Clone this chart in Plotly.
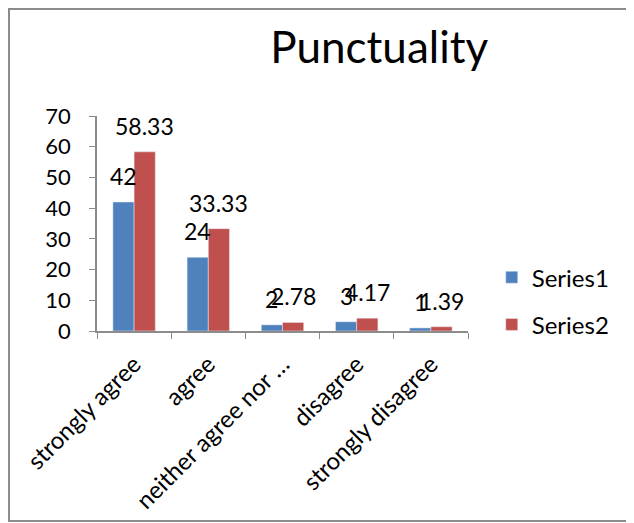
import plotly.graph_objects as go

categories = ["strongly agree", "agree", "neither agree nor …", "disagree", "strongly disagree"]
series1 = [42, 24, 2, 3, 1]
series2 = [58.33, 33.33, 2.78, 4.17, 1.39]
series1_labels = ["42", "24", "2", "3", "1"]
series2_labels = ["58.33", "33.33", "2.78", "4.17", "1.39"]

# page body adds an 8px margin, so the figure is a little smaller than the window
W, H = 626, 515
L, R, T, B = 89, 166, 108, 192
FONT = "Lato, 'Open Sans', sans-serif"
BLUE = "#4F81BD"
RED = "#C0504D"
GREY = "#8c8c8c"

fig = go.Figure()
fig.add_trace(go.Bar(name="Series1", x=categories, y=series1, marker_color=BLUE,
                     legendgroup="s1"))
fig.add_trace(go.Bar(name="Series2", x=categories, y=series2, marker_color=RED,
                     legendgroup="s2"))

# data labels sit a bit above each bar, centred on it (Excel style)
plot_w = W - L - R
plot_h = H - T - B
bar_w = plot_w / len(categories) * (1 - 0.4286) / 2
for vals, labels, shift in [(series1, series1_labels, -bar_w / 2),
                            (series2, series2_labels, bar_w / 2)]:
    for c, v, t in zip(categories, vals, labels):
        fig.add_annotation(x=c, y=v, text=t, showarrow=False, xshift=shift,
                           yshift=10, yanchor="bottom",
                           font=dict(family=FONT, size=23, color="black"))

# chart border (right edge falls outside the picture)
fig.add_shape(type="rect", xref="paper", yref="paper",
              x0=(1 - L) / plot_w, x1=(W + 10 - L) / plot_w,
              y0=-(B - 2) / plot_h, y1=1 + (T - 1) / plot_h,
              line=dict(color=GREY, width=2))

fig.update_layout(
    width=W, height=H,
    margin=dict(l=L, r=R, t=T, b=B, autoexpand=False),
    paper_bgcolor="white", plot_bgcolor="white",
    barmode="group", bargap=0.4286, bargroupgap=0,
    font=dict(family=FONT, size=20, color="black"),
    title=dict(text="Punctuality", x=0.593, xref="container", xanchor="center",
               y=0.924, yref="container", yanchor="middle",
               font=dict(family=FONT, size=44, color="black")),
    legend=dict(x=1.064, xanchor="left", y=0.353, yanchor="top",
                font=dict(family=FONT, size=24), tracegroupgap=13,
                bgcolor="rgba(0,0,0,0)"),
    showlegend=True,
)
fig.update_xaxes(type="category", showline=True, linecolor=GREY, linewidth=1.5,
                 ticks="outside", tickson="boundaries", ticklen=6, tickcolor=GREY,
                 tickangle=-45, showgrid=False, ticklabelstandoff=8, automargin=False,
                 tickfont=dict(family=FONT, size=24))
fig.update_yaxes(range=[0, 70], dtick=10, showline=True, linecolor=GREY,
                 linewidth=1.5, ticks="outside", ticklen=6, tickcolor=GREY,
                 showgrid=False, zeroline=False, ticklabelstandoff=14, automargin=False,
                 tickfont=dict(family=FONT, size=22))

fig.write_html("out.html")
